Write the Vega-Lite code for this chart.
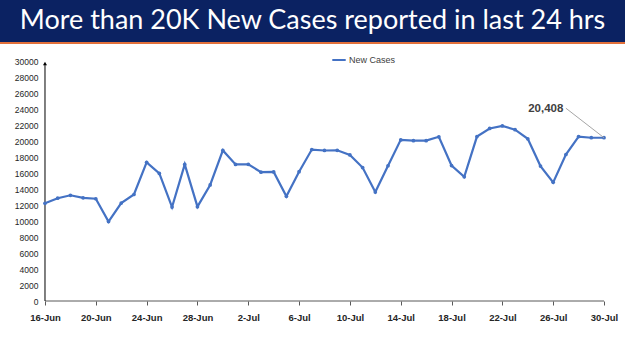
{
  "$schema": "https://vega.github.io/schema/vega-lite/v6.json",
  "padding": 0,
  "background": "white",
  "spacing": 13,
  "config": {"view": {"stroke": null}},
  "vconcat": [
    {
      "spacing": 0,
      "vconcat": [
        {
          "width": 625,
          "height": 42,
          "data": {"values": [{}]},
          "view": {"fill": "#0b2262", "stroke": null},
          "mark": {"type": "text", "font": "Lato", "fontSize": 27, "color": "white", "baseline": "middle", "align": "center"},
          "encoding": {"text": {"value": "More than 20K New Cases reported in last 24 hrs"}}
        },
        {
          "width": 625,
          "height": 2,
          "data": {"values": [{}]},
          "view": {"fill": "#e2703a", "stroke": null},
          "mark": {"type": "text", "fontSize": 1},
          "encoding": {"text": {"value": ""}}
        }
      ]
    },
    {
      "width": 625,
      "height": 240,
      "resolve": {"axis": {"x": "independent", "y": "independent"}},
      "data": {
        "values": [
          {"date": "2022-06-16", "cases": 12213, "series": "New Cases"},
          {"date": "2022-06-17", "cases": 12847, "series": "New Cases"},
          {"date": "2022-06-18", "cases": 13216, "series": "New Cases"},
          {"date": "2022-06-19", "cases": 12899, "series": "New Cases"},
          {"date": "2022-06-20", "cases": 12781, "series": "New Cases"},
          {"date": "2022-06-21", "cases": 9923, "series": "New Cases"},
          {"date": "2022-06-22", "cases": 12249, "series": "New Cases"},
          {"date": "2022-06-23", "cases": 13313, "series": "New Cases"},
          {"date": "2022-06-24", "cases": 17336, "series": "New Cases"},
          {"date": "2022-06-25", "cases": 15940, "series": "New Cases"},
          {"date": "2022-06-26", "cases": 11739, "series": "New Cases"},
          {"date": "2022-06-27", "cases": 17073, "series": "New Cases"},
          {"date": "2022-06-28", "cases": 11793, "series": "New Cases"},
          {"date": "2022-06-29", "cases": 14506, "series": "New Cases"},
          {"date": "2022-06-30", "cases": 18819, "series": "New Cases"},
          {"date": "2022-07-01", "cases": 17070, "series": "New Cases"},
          {"date": "2022-07-02", "cases": 17092, "series": "New Cases"},
          {"date": "2022-07-03", "cases": 16103, "series": "New Cases"},
          {"date": "2022-07-04", "cases": 16135, "series": "New Cases"},
          {"date": "2022-07-05", "cases": 13086, "series": "New Cases"},
          {"date": "2022-07-06", "cases": 16159, "series": "New Cases"},
          {"date": "2022-07-07", "cases": 18930, "series": "New Cases"},
          {"date": "2022-07-08", "cases": 18815, "series": "New Cases"},
          {"date": "2022-07-09", "cases": 18840, "series": "New Cases"},
          {"date": "2022-07-10", "cases": 18257, "series": "New Cases"},
          {"date": "2022-07-11", "cases": 16678, "series": "New Cases"},
          {"date": "2022-07-12", "cases": 13615, "series": "New Cases"},
          {"date": "2022-07-13", "cases": 16906, "series": "New Cases"},
          {"date": "2022-07-14", "cases": 20139, "series": "New Cases"},
          {"date": "2022-07-15", "cases": 20038, "series": "New Cases"},
          {"date": "2022-07-16", "cases": 20044, "series": "New Cases"},
          {"date": "2022-07-17", "cases": 20528, "series": "New Cases"},
          {"date": "2022-07-18", "cases": 16935, "series": "New Cases"},
          {"date": "2022-07-19", "cases": 15528, "series": "New Cases"},
          {"date": "2022-07-20", "cases": 20557, "series": "New Cases"},
          {"date": "2022-07-21", "cases": 21566, "series": "New Cases"},
          {"date": "2022-07-22", "cases": 21880, "series": "New Cases"},
          {"date": "2022-07-23", "cases": 21411, "series": "New Cases"},
          {"date": "2022-07-24", "cases": 20279, "series": "New Cases"},
          {"date": "2022-07-25", "cases": 16866, "series": "New Cases"},
          {"date": "2022-07-26", "cases": 14830, "series": "New Cases"},
          {"date": "2022-07-27", "cases": 18313, "series": "New Cases"},
          {"date": "2022-07-28", "cases": 20557, "series": "New Cases"},
          {"date": "2022-07-29", "cases": 20409, "series": "New Cases"},
          {"date": "2022-07-30", "cases": 20408, "series": "New Cases"}
        ]
      },
      "layer": [
        {
          "data": {"values": [{}]},
          "mark": {"type": "rule", "color": "#595959", "strokeWidth": 1},
          "encoding": {
            "x": {"datum": {"year": 2022, "month": 6, "date": 16, "utc": true}, "type": "temporal", "axis": null},
            "x2": {"datum": {"year": 2022, "month": 7, "date": 30, "utc": true}},
            "y": {"datum": 0, "type": "quantitative", "axis": null}
          }
        },
        {
          "data": {"values": [{}]},
          "mark": {"type": "rule", "color": "#000000", "strokeWidth": 1},
          "encoding": {
            "x": {"datum": {"year": 2022, "month": 6, "date": 16, "utc": true}, "type": "temporal", "axis": null},
            "y": {"datum": 0, "type": "quantitative", "axis": null},
            "y2": {"datum": 29600}
          }
        },
        {
          "data": {"values": [{}]},
          "mark": {"type": "point", "shape": "triangle-up", "filled": true, "color": "#000000", "size": 16, "opacity": 1},
          "encoding": {
            "x": {"datum": {"year": 2022, "month": 6, "date": 16, "utc": true}, "type": "temporal", "axis": null},
            "y": {"datum": 29700, "type": "quantitative", "axis": null}
          }
        },
        {
          "mark": {"type": "line", "strokeWidth": 2.2, "point": {"filled": true, "size": 14}},
          "encoding": {
            "x": {
              "field": "date",
              "type": "temporal",
              "scale": {
                "type": "utc",
                "nice": false,
                "domain": [
                  {"year": 2022, "month": 6, "date": 12, "hours": 11, "utc": true},
                  {"year": 2022, "month": 7, "date": 31, "hours": 15, "minutes": 40, "utc": true}
                ]
              },
              "axis": {
                "title": null,
                "values": [
                  {"year": 2022, "month": 6, "date": 16, "utc": true},
                  {"year": 2022, "month": 6, "date": 20, "utc": true},
                  {"year": 2022, "month": 6, "date": 24, "utc": true},
                  {"year": 2022, "month": 6, "date": 28, "utc": true},
                  {"year": 2022, "month": 7, "date": 2, "utc": true},
                  {"year": 2022, "month": 7, "date": 6, "utc": true},
                  {"year": 2022, "month": 7, "date": 10, "utc": true},
                  {"year": 2022, "month": 7, "date": 14, "utc": true},
                  {"year": 2022, "month": 7, "date": 18, "utc": true},
                  {"year": 2022, "month": 7, "date": 22, "utc": true},
                  {"year": 2022, "month": 7, "date": 26, "utc": true},
                  {"year": 2022, "month": 7, "date": 30, "utc": true}
                ],
                "labelExpr": "utcFormat(datum.value, '%-d-%b')",
                "domain": false,
                "grid": false,
                "ticks": true,
                "tickSize": 4,
                "tickColor": "#595959",
                "labelFont": "Liberation Sans",
                "labelFontWeight": "bold",
                "labelFontSize": 9.5,
                "labelColor": "#262626",
                "labelPadding": 7,
                "labelFlush": false,
                "labelOverlap": false
              }
            },
            "y": {
              "field": "cases",
              "type": "quantitative",
              "scale": {"domain": [0, 30000], "nice": false, "zero": true},
              "axis": {
                "title": null,
                "values": [0, 2000, 4000, 6000, 8000, 10000, 12000, 14000, 16000, 18000, 20000, 22000, 24000, 26000, 28000, 30000],
                "format": "d",
                "domain": false,
                "ticks": false,
                "tickSize": 0,
                "grid": false,
                "offset": -45,
                "labelPadding": 7,
                "labelFont": "Liberation Sans",
                "labelFontSize": 8.5,
                "labelColor": "#262626",
                "labelOverlap": false
              }
            },
            "color": {
              "field": "series",
              "type": "nominal",
              "scale": {"range": ["#4472C4"]},
              "legend": {
                "title": null,
                "orient": "none",
                "legendX": 331,
                "legendY": 52,
                "symbolType": "stroke",
                "symbolStrokeWidth": 2,
                "symbolSize": 180,
                "labelFont": "Liberation Sans",
                "labelFontSize": 9,
                "labelColor": "#404040",
                "labelOffset": 2
              }
            }
          }
        },
        {
          "data": {"values": [{}]},
          "mark": {"type": "rule", "color": "#a6a6a6", "strokeWidth": 1},
          "encoding": {
            "x": {"datum": {"year": 2022, "month": 7, "date": 27, "utc": true}, "type": "temporal", "axis": null},
            "x2": {"datum": {"year": 2022, "month": 7, "date": 30, "utc": true}},
            "y": {"datum": 24100, "type": "quantitative", "axis": null},
            "y2": {"datum": 20408}
          }
        },
        {
          "transform": [{"filter": "utcdate(datum.date) == 30 && utcmonth(datum.date) == 6"}],
          "mark": {"type": "text", "font": "Liberation Sans", "fontWeight": "bold", "fontSize": 11.5, "color": "#404040", "align": "center", "baseline": "middle"},
          "encoding": {
            "x": {"datum": {"year": 2022, "month": 7, "date": 25, "hours": 10, "utc": true}, "type": "temporal", "axis": null},
            "y": {"datum": 24000, "type": "quantitative", "axis": null},
            "text": {"field": "cases", "type": "quantitative", "format": ","}
          }
        }
      ]
    }
  ]
}
